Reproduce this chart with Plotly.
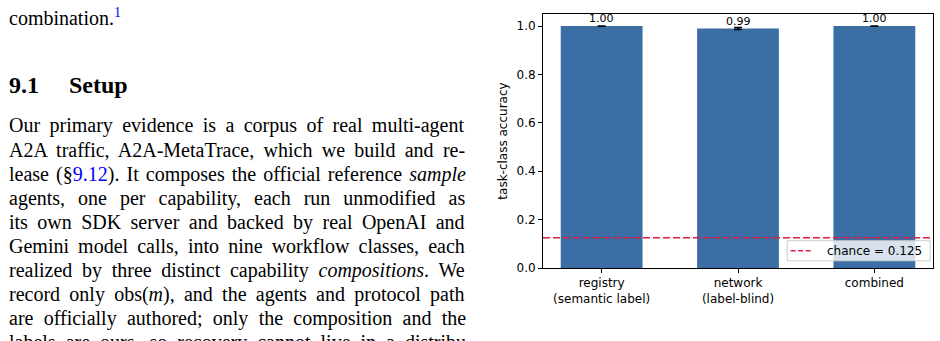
import plotly.graph_objects as go

# ---- data ----
categories = ["registry<br>(semantic label)", "network<br>(label-blind)", "combined"]
accuracy = [1.00, 0.99, 1.00]
errors = [0.0, 0.004, 0.0]
chance = 0.125
yticks = [0.0, 0.2, 0.4, 0.6, 0.8, 1.0]

body_lines = [
    "Our primary evidence is a corpus of real multi-agent",
    "A2A traffic, A2A-MetaTrace, which we build and re-",
    "lease (§<span style='color:#0000ff'>9.12</span>). It composes the official reference <i>sample</i>",
    "agents, one per capability, each run unmodified as",
    "its own SDK server and backed by real OpenAI and",
    "Gemini model calls, into nine workflow classes, each",
    "realized by three distinct capability <i>compositions</i>. We",
    "record only obs(<i>m</i>), and the agents and protocol path",
    "are officially authored; only the composition and the",
    "labels are ours, so recovery cannot live in a distribu-",
]
# extra word spacing (px) per line to justify the paragraph
word_spacing = [4.4, 4.3, 2.1, 8.0, 4.4, 4.1, 4.7, 4.25, 5.3, 5.0]

W, H = 940, 341
L, R, T, B = 543.3, 933.3, 14.3, 267.7
PW, PH = R - L, B - T


def px(x):
    return (x - L) / PW


def py(y):
    return 1 - (y - T) / PH


BAR = "#3a6ea5"
RED = "#dc1f45"
SANS = "DejaVu Sans"
SERIF = "Liberation Serif"

fig = go.Figure()
fig.add_trace(go.Bar(
    x=categories, y=accuracy, width=0.6, marker_color=BAR, marker_line_width=0,
    error_y=dict(type="data", array=errors, color="black", thickness=1.6, width=4),
    showlegend=False,
))

# chance line
fig.add_shape(type="line", xref="paper", x0=0, x1=1, yref="y", y0=chance, y1=chance,
              line=dict(color=RED, width=1.5, dash="7px,3px"))

# value labels
for c, v in zip(categories, accuracy):
    fig.add_annotation(x=c, y=v, text=f"{v:.2f}", showarrow=False, yanchor="bottom",
                       yshift=-1, font=dict(family=SANS, size=11, color="black"))

# legend (manual)
fig.add_shape(type="rect", xref="paper", yref="paper", x0=px(787.5), x1=px(930.5),
              y0=py(260.5), y1=py(240.5), fillcolor="rgba(255,255,255,0.8)",
              line=dict(color="#cccccc", width=1))
fig.add_shape(type="line", xref="paper", yref="paper", x0=px(791), x1=px(811),
              y0=py(250.5), y1=py(250.5), line=dict(color=RED, width=1.5, dash="5px,2.5px"))
fig.add_annotation(xref="paper", yref="paper", x=px(825), y=py(250.5), xanchor="left",
                   yanchor="middle", text=f"chance = {chance}", showarrow=False,
                   font=dict(family=SANS, size=12, color="black"))

# left-hand page text
fig.add_annotation(xref="paper", yref="paper", x=px(7), y=py(17), xanchor="left",
                   yanchor="middle", showarrow=False,
                   text="combination.<sup><span style='color:#0000ff'>1</span></sup>",
                   font=dict(family=SERIF, size=20, color="black"))
fig.add_annotation(xref="paper", yref="paper", x=px(7), y=py(85), xanchor="left",
                   yanchor="middle", showarrow=False, text="<b>9.1</b>",
                   font=dict(family=SERIF, size=24, color="black"))
fig.add_annotation(xref="paper", yref="paper", x=px(67), y=py(85), xanchor="left",
                   yanchor="middle", showarrow=False, text="<b>Setup</b>",
                   font=dict(family=SERIF, size=24, color="black"))
for i, (line, ws) in enumerate(zip(body_lines, word_spacing)):
    fig.add_annotation(xref="paper", yref="paper", x=px(7), y=py(126 + 24 * i),
                       xanchor="left", yanchor="middle", showarrow=False,
                       text=f"<span style='word-spacing:{ws}px'>{line}</span>",
                       font=dict(family=SERIF, size=20, color="black"))

fig.update_layout(
    width=W, height=H, autosize=False,
    margin=dict(l=L, r=W - R, t=T, b=H - B, pad=0),
    plot_bgcolor="white", paper_bgcolor="white",
    bargap=0.4,
    xaxis=dict(type="category", range=[-0.43, 2.43], showline=True, mirror=True,
               linecolor="black", linewidth=1, ticks="outside", ticklen=4,
               tickcolor="black", showgrid=False, zeroline=False,
               tickfont=dict(family=SANS, size=12, color="black")),
    yaxis=dict(range=[0, 1.05], tickvals=yticks, ticktext=[f"{v:.1f}" for v in yticks],
               showline=True, mirror=True, linecolor="black", linewidth=1,
               ticks="outside", ticklen=4, tickcolor="black", showgrid=False,
               zeroline=False, tickfont=dict(family=SANS, size=12, color="black"),
               title=dict(text="task-class accuracy", standoff=6,
                          font=dict(family=SANS, size=12, color="black"))),
)

fig.write_html("out.html")
